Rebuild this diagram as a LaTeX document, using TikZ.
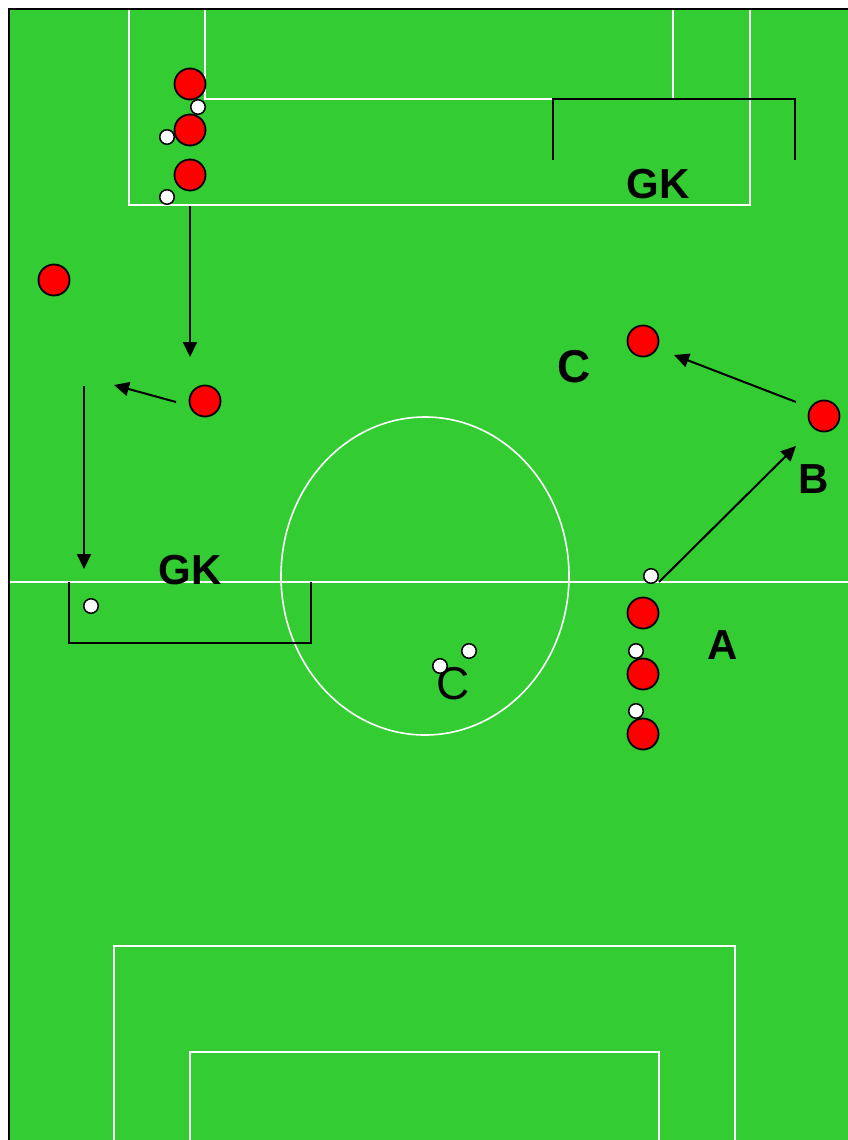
\documentclass[tikz,border=0pt]{standalone}
\usepackage{fontspec}
\setmainfont{Liberation Sans}
\usetikzlibrary{arrows.meta}
\definecolor{pitch}{RGB}{51,204,51}
\tikzset{
  player/.style={circle,draw=black,fill=red,line width=1.8pt,minimum size=31pt,inner sep=0pt},
  ball/.style={circle,draw=black,fill=white,line width=1.5pt,minimum size=14.5pt,inner sep=0pt},
  pline/.style={draw=white,line width=1.6pt},
  bracket/.style={draw=black,line width=2pt},
  move/.style={draw=black,line width=2pt,-{Triangle[length=15pt,width=14pt]}},
  blabel/.style={inner sep=0pt,font=\bfseries\fontsize{42}{42}\selectfont},
  clabel/.style={inner sep=0pt,font=\bfseries\fontsize{46}{46}\selectfont},
  rlabel/.style={inner sep=0pt,font=\fontsize{46}{46}\selectfont}
}
\begin{document}
\begin{tikzpicture}[x=1pt,y=-1pt]
\useasboundingbox (0,0) rectangle (848,1140);
\fill[white] (0,0) rectangle (848,1140);
\fill[pitch] (9,9) rectangle (848,1140);
% pitch markings
\draw[pline] (129,9) -- (129,205) -- (750,205) -- (750,9);
\draw[pline] (205,9) -- (205,99) -- (673,99) -- (673,9);
\draw[pline] (9,582) -- (848,582);
\draw[pline] (425,576) ellipse [x radius=144, y radius=159];
\draw[pline] (114,1140) -- (114,946) -- (735,946) -- (735,1140);
\draw[pline] (190,1140) -- (190,1052) -- (659,1052) -- (659,1140);
% border
\draw[black,line width=2pt] (9,1140) -- (9,9) -- (848,9);
% goal brackets
\draw[bracket] (553,160) -- (553,99) -- (795,99) -- (795,160);
\draw[bracket] (69,582) -- (69,643) -- (311,643) -- (311,582);
% labels
\node[blabel] (gk1) at (658,184) {GK};
\node[blabel] (gk2) at (190,570) {GK};
\node[blabel] (la) at (723,645) {A};
\node[blabel] (lb) at (814,479) {B};
\node[clabel] (lc) at (574,367) {C};
\node[rlabel] (lc2) at (453,684) {C};
% players
\node[player] (p1) at (190,84) {};
\node[player] (p2) at (190,130) {};
\node[player] (p3) at (190,175) {};
\node[player] (p4) at (54,280) {};
\node[player] (p5) at (205,401) {};
\node[player] (p6) at (643,341) {};
\node[player] (p7) at (824,416) {};
\node[player] (p8) at (643,613) {};
\node[player] (p9) at (643,674) {};
\node[player] (p10) at (643,734) {};
% balls
\node[ball] (b1) at (198,107) {};
\node[ball] (b2) at (167,137) {};
\node[ball] (b3) at (167,197) {};
\node[ball] (b4) at (91,606) {};
\node[ball] (b5) at (651,576) {};
\node[ball] (b6) at (636,651) {};
\node[ball] (b7) at (636,711) {};
\node[ball] (b8) at (440,666) {};
\node[ball] (b9) at (469,651) {};
% arrow coordinates
\coordinate (a1s) at (190,206);
\coordinate (a1e) at (190,357);
\coordinate (a2s) at (176,402);
\coordinate (a2e) at (114,385);
\coordinate (a3s) at (84,386);
\coordinate (a3e) at (84,569);
\coordinate (a4s) at (659,582);
\coordinate (a4e) at (796,446);
\coordinate (a5s) at (796,402);
\coordinate (a5e) at (674,355);
\draw[move] (a1s) -- (a1e);
\draw[move] (a2s) -- (a2e);
\draw[move] (a3s) -- (a3e);
\draw[move] (a4s) -- (a4e);
\draw[move] (a5s) -- (a5e);
\end{tikzpicture}
\end{document}
